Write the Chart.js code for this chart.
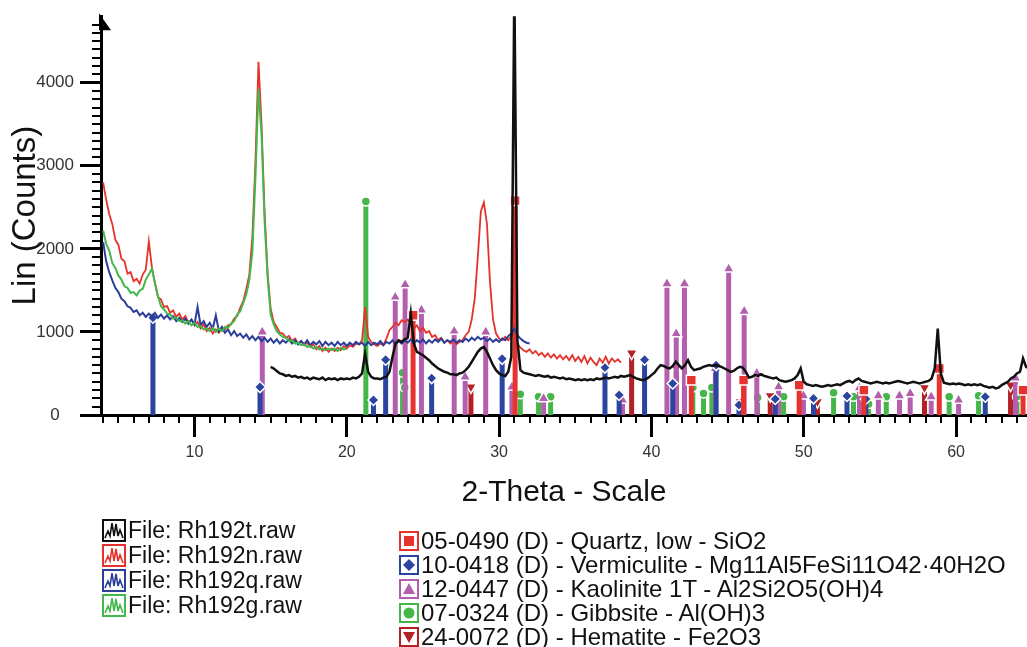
<!DOCTYPE html>
<html>
<head>
<meta charset="utf-8">
<script src="https://cdn.jsdelivr.net/npm/chart.js@4.4.1/dist/chart.umd.min.js"></script>
<style>
  body { margin: 0; background: #fff; font-family: "Liberation Sans", Arial, sans-serif; }
  #wrap { position: relative; width: 1027px; height: 647px; overflow: hidden; }
  #xrd { position: absolute; left: 0; top: 0; }
  .leg { position: absolute; color: #111; }
  .leg div { display: flex; align-items: center; white-space: nowrap; }
  .leg svg { flex: none; }
  #legFiles { left: 102px; top: 518px; font-size: 23px; }
  #legFiles div { height: 25px; }
  #legFiles span { margin-left: 2px; }
  #legPhases { left: 399px; top: 529px; font-size: 24px; }
  #legPhases div { height: 24px; }
  #legPhases span { margin-left: 2px; }
</style>
</head>
<body>
<div id="wrap">
  <canvas id="xrd" width="1027" height="647"></canvas>
  <div class="leg" id="legFiles"></div>
  <div class="leg" id="legPhases"></div>
</div>
<script>
// scans, 0.2 deg step, counts
var scanStep = 0.2;

var rh192tStart = 15.0;
var rh192t = [
  580, 560, 530, 500, 490,
  470, 480, 460, 470, 450,
  460, 440, 450, 430, 450,
  440, 430, 450, 420, 440,
  430, 440, 420, 440, 430,
  440, 430, 450, 440, 460,
  500, 740, 520, 460, 440,
  440, 430, 450, 460, 520,
  700, 860, 900, 880, 910,
  930, 1220, 860, 760, 740,
  720, 690, 660, 620, 590,
  560, 540, 520, 510, 490,
  490, 480, 500, 510, 540,
  580, 640, 700, 760, 800,
  820, 760, 680, 600, 540,
  500, 480, 470, 520, 700,
  5200, 900, 540, 510, 500,
  490, 480, 470, 480, 470,
  460, 470, 450, 460, 450,
  440, 450, 430, 440, 430,
  420, 430, 420, 430, 420,
  430, 420, 440, 430, 440,
  450, 440, 450, 460, 450,
  470, 460, 470, 480, 460,
  440, 430, 420, 430, 450,
  480, 510, 560, 600, 590,
  570, 560, 590, 640, 600,
  560, 600, 660, 580, 540,
  550, 560, 580, 590, 600,
  590, 600, 590, 580, 560,
  540, 520, 530, 560, 580,
  570, 520, 450, 460, 480,
  470, 490, 470, 460, 450,
  440, 450, 420, 410, 400,
  410, 420, 440, 480, 560,
  400, 370, 360, 350, 360,
  350, 340, 350, 360, 350,
  360, 370, 360, 380, 400,
  410, 390, 420, 440, 410,
  400, 390, 380, 390, 400,
  390, 380, 390, 380, 390,
  400, 410, 400, 390, 380,
  390, 400, 390, 380, 390,
  400, 410, 440, 560, 1040,
  500, 390, 380, 370, 380,
  370, 380, 370, 360, 370,
  360, 370, 360, 370, 350,
  340, 330, 340, 320, 330,
  360, 380, 400, 440, 460,
  500, 520, 680, 580, 560
];

var rh192nStart = 4.0;
var rh192n = [
  2800, 2590, 2420, 2300, 2110,
  2050, 1880, 1850, 1700, 1720,
  1610, 1640, 1580, 1690, 1750,
  2090, 1780, 1590, 1420, 1390,
  1300, 1310, 1230, 1260, 1180,
  1220, 1150, 1190, 1110, 1150,
  1080, 1120, 1040, 1090, 1010,
  1050, 980, 1030, 990, 1050,
  1030, 1080, 1090, 1160, 1190,
  1290, 1370, 1520, 1690, 2150,
  3050, 4250, 3500, 2450, 1700,
  1280, 1120, 1060, 990, 980,
  930, 950, 890, 920, 860,
  890, 840, 870, 820, 850,
  790, 830, 770, 810, 760,
  800, 770, 810, 780, 830,
  800, 840, 820, 860, 850,
  900, 1300, 940, 880, 850,
  830, 860, 840, 920, 1020,
  1060, 1110, 1080, 1140, 1120,
  1150, 1100, 1040, 1080, 1010,
  1050, 990, 1010, 940, 960,
  900, 930, 870, 900, 860,
  890, 850, 880, 900, 960,
  1000, 1150, 1400, 1900, 2450,
  2560, 2300, 1600, 1150, 980,
  920, 900, 940, 900, 950,
  1000, 860, 810, 780, 760,
  790, 740, 770, 720, 750,
  700, 740, 690, 730, 680,
  720, 670, 710, 660, 720,
  650, 700, 640, 710, 620,
  690, 640, 600, 680, 630,
  700, 620, 680, 640, 670,
  630
];

var rh192qStart = 4.0;
var rh192q = [
  2080, 1850, 1720, 1620, 1530,
  1480, 1400, 1370, 1310, 1290,
  1240, 1260, 1200, 1230, 1180,
  1220, 1190, 1230, 1170, 1210,
  1160, 1200, 1150, 1190, 1130,
  1170, 1120, 1160, 1100, 1150,
  1090, 1300, 1080, 1130, 1060,
  1110, 1040, 1200, 1010, 1060,
  990, 1030, 960, 1010, 950,
  980, 930, 970, 910, 950,
  900, 940, 890, 930, 880,
  920, 870, 910, 860, 900,
  870, 910, 860, 900, 850,
  890, 850, 900, 840, 880,
  850, 890, 830, 880, 840,
  870, 830, 880, 840, 870,
  830, 870, 840, 880, 850,
  870, 830, 880, 840, 870,
  850, 890, 840, 880, 860,
  900, 850, 890, 860, 900,
  870, 910, 860, 900, 870,
  910, 860, 900, 870, 910,
  880, 920, 870, 900, 880,
  910, 870, 900, 880, 920,
  890, 930, 900, 940, 910,
  930, 890, 920, 880, 910,
  880, 920, 900, 950, 980,
  1040, 960, 920, 890, 870,
  860
];

var rh192gStart = 4.0;
var rh192g = [
  2220, 2060, 1980, 1830, 1770,
  1680, 1630, 1550, 1530, 1470,
  1480, 1440, 1500, 1520, 1630,
  1690, 1760, 1590, 1430, 1310,
  1270, 1220, 1210, 1160, 1170,
  1130, 1140, 1100, 1130, 1080,
  1110, 1060, 1070, 1030, 1040,
  1010, 1050, 1000, 1040, 1010,
  1060, 1050, 1100, 1130, 1210,
  1250, 1350, 1450, 1630, 1970,
  2860, 3920, 3380, 2340, 1660,
  1210, 1090, 1010, 970, 940,
  930, 890, 900, 860, 870,
  840, 850, 820, 830, 800,
  820, 790, 800, 780, 800,
  780, 800, 770, 810, 790,
  800
];

// reference patterns: 2-theta positions and stick heights
var quartzPos = [24.35, 31.05, 42.62, 46.05, 49.7, 53.95, 58.9, 64.4];
var quartzInt = [1200, 2580, 420, 420, 360, 300, 560, 300];

var vermPos = [7.27, 14.3, 21.75, 22.55, 25.57, 30.2, 36.95, 37.88, 39.55, 41.4, 44.25, 45.75, 48.13, 50.64, 52.84, 54.08, 61.92];
var vermInt = [1170, 336, 180, 665, 444, 676, 570, 240, 666, 380, 600, 120, 192, 200, 228, 192, 220];

var kaolPos = [14.45, 23.18, 23.83, 24.9, 27.05, 27.77, 29.12, 30.84, 32.92, 38.1, 41.02, 41.63, 42.17, 44.2, 45.07, 46.09, 46.92, 48.35, 49.98, 53.66, 54.9, 56.29, 56.99, 58.37, 60.17, 63.9];
var kaolInt = [1000, 1420, 1570, 1265, 1010, 458, 1000, 338, 200, 180, 1580, 980, 1580, 560, 1760, 1250, 504, 340, 232, 328, 232, 232, 260, 220, 180, 444];

var gibbPos = [21.25, 23.66, 23.8, 31.39, 32.59, 33.38, 42.72, 43.42, 43.97, 46.97, 48.68, 51.96, 53.27, 54.26, 55.42, 59.55, 61.48, 64.0];
var gibbInt = [2570, 510, 330, 250, 220, 220, 332, 260, 332, 208, 220, 268, 220, 132, 220, 220, 232, 220];

var hemPos = [28.15, 38.7, 41.63, 45.83, 47.8, 50.9, 57.93, 63.58];
var hemInt = [338, 746, 564, 160, 232, 160, 328, 360];

var xTickVals = [10, 20, 30, 40, 50, 60];
var yTickVals = [0, 1000, 2000, 3000, 4000];

var scanNames = ['File: Rh192t.raw', 'File: Rh192n.raw', 'File: Rh192q.raw', 'File: Rh192g.raw'];
var scanColors = ['#111111', '#e5322a', '#2b3f99', '#42b74b'];
var phaseNames = [
  '05-0490 (D) - Quartz, low - SiO2',
  '10-0418 (D) - Vermiculite - Mg11Al5FeSi11O42\u00b740H2O',
  '12-0447 (D) - Kaolinite 1T - Al2Si2O5(OH)4',
  '07-0324 (D) - Gibbsite - Al(OH)3',
  '24-0072 (D) - Hematite - Fe2O3'
];
var phaseColors = ['#e8322e', '#2a44a0', '#b35fad', '#45b649', '#b32025'];

function toPoints(x0, ys) {
  var pts = [];
  for (var i = 0; i < ys.length; i++) {
    pts.push({x: Math.round((x0 + i * scanStep) * 100) / 100, y: ys[i]});
  }
  return pts;
}

function sticks(pos, ints) {
  var pts = [];
  for (var i = 0; i < pos.length; i++) {
    pts.push({x: pos[i], y: 0});
    pts.push({x: pos[i], y: ints[i]});
    pts.push({x: pos[i], y: null});
  }
  return pts;
}

function scanSet(pts, color, width) {
  return {
    data: pts, borderColor: color, borderWidth: width,
    pointRadius: 0, tension: 0, order: 0
  };
}

function stickSet(pts, color, style, size, rot) {
  return {
    data: pts, borderColor: color, borderWidth: 5, borderCapStyle: 'butt',
    spanGaps: false, order: 1,
    pointStyle: style, pointRotation: rot,
    pointRadius: function(c) { return (c.raw && c.raw.y > 0) ? size : 0; },
    pointBackgroundColor: color, pointBorderColor: '#ffffff', pointBorderWidth: 1.5
  };
}

function fixedTicks(vals) {
  return function(s) {
    s.ticks = vals.map(function(v) { return {value: v}; });
  };
}

// small tick marks and the arrow on the y axis
var axisExtras = {
  id: 'axisExtras',
  afterDraw: function(chart) {
    var ctx = chart.ctx, xs = chart.scales.x, ys = chart.scales.y, a = chart.chartArea;
    ctx.save();
    ctx.strokeStyle = '#000';
    ctx.lineWidth = 2;
    ctx.beginPath();
    for (var v = 100; v <= 4700; v += 100) {
      if (v % 1000 === 0) continue;
      var py = Math.round(ys.getPixelForValue(v));
      ctx.moveTo(a.left - 9, py);
      ctx.lineTo(a.left, py);
    }
    for (var d = 4; d <= 64; d++) {
      if (d % 10 === 0) continue;
      var px = Math.round(xs.getPixelForValue(d));
      ctx.moveTo(px, a.bottom);
      ctx.lineTo(px, a.bottom + 8);
    }
    ctx.stroke();
    ctx.fillStyle = '#000';
    ctx.beginPath();
    ctx.moveTo(a.left - 2, a.top - 3);
    ctx.lineTo(a.left + 10, a.top + 14);
    ctx.lineTo(a.left - 2, a.top + 14);
    ctx.closePath();
    ctx.fill();
    ctx.restore();
  }
};

var fontFam = '"Liberation Sans", Arial, sans-serif';

new Chart(document.getElementById('xrd'), {
  type: 'line',
  data: {
    datasets: [
      scanSet(toPoints(rh192tStart, rh192t), scanColors[0], 2.5),
      scanSet(toPoints(rh192gStart, rh192g), scanColors[3], 2),
      scanSet(toPoints(rh192qStart, rh192q), scanColors[2], 2),
      scanSet(toPoints(rh192nStart, rh192n), scanColors[1], 1.8),
      stickSet(sticks(quartzPos, quartzInt), phaseColors[0], 'rect', 7, 0),
      stickSet(sticks(vermPos, vermInt), phaseColors[1], 'rectRot', 5.5, 0),
      stickSet(sticks(kaolPos, kaolInt), phaseColors[2], 'triangle', 6.5, 0),
      stickSet(sticks(gibbPos, gibbInt), phaseColors[3], 'circle', 4.5, 0),
      stickSet(sticks(hemPos, hemInt), phaseColors[4], 'triangle', 6.5, 180)
    ]
  },
  options: {
    responsive: false,
    animation: false,
    events: [],
    layout: {padding: {top: 15, right: 0, bottom: 0, left: 0}},
    plugins: {legend: {display: false}, tooltip: {enabled: false}},
    scales: {
      x: {
        type: 'linear', min: 3.86, max: 64.66,
        afterBuildTicks: fixedTicks(xTickVals),
        grid: {drawOnChartArea: false, drawTicks: true, tickLength: 22, tickWidth: 3, tickColor: '#000'},
        border: {display: true, width: 3, color: '#000'},
        ticks: {padding: 6, color: '#333', font: {family: fontFam, size: 16}, maxRotation: 0,
          callback: function(v) { return String(v); }},
        title: {display: true, text: '2-Theta - Scale', color: '#111', font: {family: fontFam, size: 30}, padding: {top: 0, bottom: 136}},
        afterFit: function(s) { s.height = 232; }
      },
      y: {
        type: 'linear', min: 0, max: 4800,
        afterBuildTicks: fixedTicks(yTickVals),
        grid: {drawOnChartArea: false, drawTicks: true, tickLength: 21, tickWidth: 3, tickColor: '#000'},
        border: {display: true, width: 3, color: '#000'},
        ticks: {padding: 6, crossAlign: 'center', color: '#333', font: {family: fontFam, size: 17},
          callback: function(v) { return String(v); }},
        title: {display: true, text: 'Lin (Counts)', color: '#111', font: {family: fontFam, size: 33}, padding: {top: 6, bottom: 0}},
        afterFit: function(s) { s.width = 101; }
      }
    }
  },
  plugins: [axisExtras]
});

// legend blocks under the plot
function zigzagIcon(color) {
  return '<svg width="24" height="23" viewBox="0 0 24 23">' +
    '<rect x="1" y="1" width="22" height="21" fill="#fff" stroke="' + color + '" stroke-width="2"/>' +
    '<polyline points="3,19 6,12 8,17 10,4 12,17 14,5 16,17 18,11 21,19" fill="none" stroke="' + color + '" stroke-width="1.6"/>' +
    '</svg>';
}

function markerIcon(color, k) {
  var shape;
  if (k === 0) shape = '<rect x="5" y="5" width="10" height="10" fill="' + color + '"/>';
  else if (k === 1) shape = '<polygon points="10,4 16,10 10,16 4,10" fill="' + color + '"/>';
  else if (k === 2) shape = '<polygon points="10,4 16,15 4,15" fill="' + color + '"/>';
  else if (k === 3) shape = '<circle cx="10" cy="10" r="5.5" fill="' + color + '"/>';
  else shape = '<polygon points="4,5 16,5 10,16" fill="' + color + '"/>';
  return '<svg width="20" height="20" viewBox="0 0 20 20">' +
    '<rect x="1" y="1" width="18" height="18" fill="#fff" stroke="' + color + '" stroke-width="2"/>' + shape + '</svg>';
}

var lf = document.getElementById('legFiles');
for (var i = 0; i < scanNames.length; i++) {
  lf.innerHTML += '<div>' + zigzagIcon(scanColors[i]) + '<span>' + scanNames[i] + '</span></div>';
}
var lp = document.getElementById('legPhases');
for (var j = 0; j < phaseNames.length; j++) {
  lp.innerHTML += '<div>' + markerIcon(phaseColors[j], j) + '<span>' + phaseNames[j] + '</span></div>';
}
</script>
</body>
</html>
